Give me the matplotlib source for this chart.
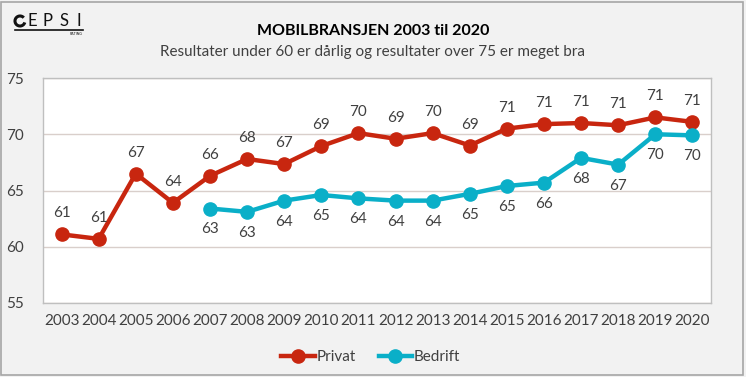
import matplotlib
matplotlib.use("Agg")
import matplotlib.pyplot as plt
from matplotlib.patches import Rectangle, Arc
import numpy as np

plt.rcParams['font.family'] = ['Lato', 'DejaVu Sans']

years = [str(y) for y in range(2003, 2021)]
privat = [61.1, 60.7, 66.5, 63.9, 66.3, 67.8, 67.35, 68.95, 70.1, 69.6, 70.1, 69.0, 70.5, 70.9, 71.0, 70.8, 71.5, 71.1]
privat_labels = ["61", "61", "67", "64", "66", "68", "67", "69", "70", "69", "70", "69", "71", "71", "71", "71", "71", "71"]
bedrift_years = [str(y) for y in range(2007, 2021)]
bedrift = [63.4, 63.1, 64.1, 64.6, 64.3, 64.1, 64.1, 64.7, 65.4, 65.7, 67.9, 67.3, 70.0, 69.9]
bedrift_labels = ["63", "63", "64", "65", "64", "64", "64", "65", "65", "66", "68", "67", "70", "70"]
yticks = [55, 60, 65, 70, 75]

title = "MOBILBRANSJEN 2003 til 2020"
subtitle = "Resultater under 60 er dårlig og resultater over 75 er meget bra"

red = "#c8260f"
cyan = "#0aafc8"
txt = "#404040"

W, H = 746, 377
fig = plt.figure(figsize=(W/100, H/100), dpi=100)
fig.patch.set_facecolor("#f2f2f2")
ax = fig.add_axes([43/W, 1-303/H, (711-43)/W, (303-78)/H])
ax.set_facecolor("white")

xp = np.arange(len(years))
xb = np.array([years.index(y) for y in bedrift_years])

ax.plot(xp, privat, color=red, lw=3.2, marker='o', ms=9.5, label="Privat", zorder=3)
ax.plot(xb, bedrift, color=cyan, lw=3.2, marker='o', ms=9.5, label="Bedrift", zorder=3)

for x, v, l in zip(xp, privat, privat_labels):
    ax.annotate(l, (x, v), xytext=(0, 10), textcoords="offset points", ha='center', va='bottom',
                fontsize=11, color=txt)
for x, v, l in zip(xb, bedrift, bedrift_labels):
    ax.annotate(l, (x, v), xytext=(0, -10), textcoords="offset points", ha='center', va='top',
                fontsize=11, color=txt)

ax.set_xlim(-0.5, len(years) - 0.5)
ax.set_ylim(55, 75)
ax.set_yticks(yticks)
ax.set_yticklabels([str(t) for t in yticks])
ax.set_xticks(xp)
ax.set_xticklabels(years)
ax.tick_params(length=0, labelsize=11, colors=txt)
ax.tick_params(axis='y', pad=14)
ax.tick_params(axis='x', pad=8)
ax.grid(axis='y', color="#d9cfcb", lw=1)
ax.set_axisbelow(True)
for s in ax.spines.values():
    s.set_color("#bfbfbf")
    s.set_linewidth(1)

fig.text(0.5, 0.918, title, ha='center', va='center', fontsize=11.5, fontweight='bold', color="black")
fig.text(0.5, 0.862, subtitle, ha='center', va='center', fontsize=11, color=txt)

leg = fig.legend(loc='center', bbox_to_anchor=(0.497, 0.052), ncol=2, frameon=False,
                 fontsize=11, handlelength=2.2, handletextpad=0.1, columnspacing=1.5)
for t in leg.get_texts():
    t.set_color(txt)

# outer border
fig.patches.append(Rectangle((0.002, 0.004), 0.994, 0.992, transform=fig.transFigure,
                             fill=False, edgecolor="#a6a6a6", lw=1.2))

# logo
fig.patches.append(Arc((20/W, 1-21/H), 10/W, 10/H, theta1=60, theta2=330,
                       transform=fig.transFigure, color="#111111", lw=2.2))
for ch, xpx in zip("EPSI", [27, 43, 59, 76]):
    fig.text(xpx/W, 1-21/H, ch, ha='left', va='center', fontsize=12, color="#111111")
fig.lines.append(plt.Line2D([15/W, 83/W], [1-30/H, 1-30/H], transform=fig.transFigure,
                            color="#111111", lw=1.2))
fig.text(76/W, 1-32/H, "RATING", ha='center', va='top', fontsize=2.5, color="#111111")

fig.savefig("out.png", dpi=100, facecolor=fig.get_facecolor())
